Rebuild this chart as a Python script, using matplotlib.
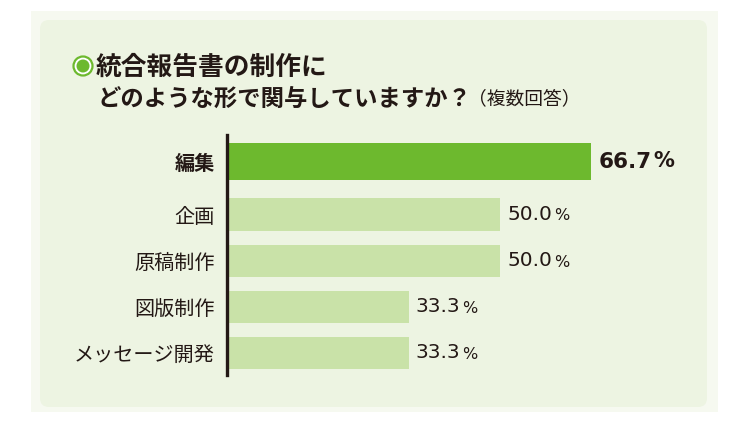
"""horizontal bar chart: involvement in integrated report production"""
import numpy as np
import matplotlib
matplotlib.use("Agg")
import matplotlib.pyplot as plt
from matplotlib.patches import FancyBboxPatch, Circle

plt.rcParams["font.family"] = ["Noto Sans CJK JP", "DejaVu Sans"]

# data
categories = ["編集", "企画", "原稿制作", "図版制作", "メッセージ開発"]
values = [66.7, 50.0, 50.0, 33.3, 33.3]
title_line1 = "統合報告書の制作に"
title_line2 = "どのような形で関与していますか？"
title_note = "（複数回答）"

W, H = 750, 422
fig = plt.figure(figsize=(W / 100, H / 100), dpi=100)
fig.patch.set_facecolor("white")

def fx(px):
    return px / W

def fy(py):
    return 1 - py / H

# background panels
outer = FancyBboxPatch((fx(31), fy(412)), fx(718) - fx(31), fy(11) - fy(412),
                       boxstyle="square,pad=0", transform=fig.transFigure,
                       facecolor="#F6F9F0", edgecolor="none", zorder=-2)
inner = FancyBboxPatch((fx(40), fy(407)), fx(707) - fx(40), fy(20) - fy(407),
                       boxstyle="round,pad=0,rounding_size=0.012",
                       transform=fig.transFigure, mutation_aspect=W / H,
                       facecolor="#EDF4E2", edgecolor="none", zorder=-1)
fig.patches.extend([outer, inner])

# title bullet (inches so it stays round)
bx, by = 83 / 100, (H - 66) / 100
bullet_outer = Circle((bx, by), 9.5 / 100, transform=fig.dpi_scale_trans,
                      facecolor="white", edgecolor="#6DB92E", linewidth=1.6, zorder=3)
bullet_inner = Circle((bx, by), 6.5 / 100, transform=fig.dpi_scale_trans,
                      facecolor="#6DB92E", edgecolor="none", zorder=4)
fig.patches.extend([bullet_outer, bullet_inner])

fig.text(fx(96), fy(67), title_line1, fontsize=18.5, fontweight="bold",
         color="#231815", va="center", ha="left")
fig.text(fx(98), fy(99), title_line2, fontsize=16.8, fontweight="bold",
         color="#231815", va="center", ha="left")
fig.text(fx(468), fy(99), title_note, fontsize=13.5, color="#231815",
         va="center", ha="left")

# bar chart
ax = fig.add_axes([fx(227), fy(375), fx(718) - fx(227), fy(135) - fy(375)])
ax.set_zorder(5)
ax.set_facecolor("none")
idx = np.arange(len(categories))
ypos = idx + np.where(idx > 0, 0.15, 0.0)
heights = np.where(idx == 0, 0.80, 0.70)
colors = ["#6DB92E" if i == 0 else "#C9E2A8" for i in idx]
ax.barh(ypos, values, height=heights, color=colors, left=0, zorder=2)

ax.set_xlim(0, (718 - 227) / 5.46)
ax.set_ylim(ypos[-1] + 0.478, -0.576)
for s in ["top", "right", "bottom"]:
    ax.spines[s].set_visible(False)
ax.spines["left"].set_linewidth(2.4)
ax.spines["left"].set_color("#231815")
ax.spines["left"].set_zorder(3)
ax.set_xticks([])
ax.set_yticks(ypos)
ax.set_yticklabels(categories, fontsize=14.5, color="#231815")
ax.tick_params(axis="y", length=0, pad=9)
ax.get_yticklabels()[0].set_fontweight("bold")

for i, v in enumerate(values):
    bold = i == 0
    t = ax.text(v + 1.3, ypos[i], f"{v:.1f}", fontsize=15.5 if bold else 14.5,
                fontweight="bold" if bold else "normal", color="#231815",
                va="center", ha="left", family=["DejaVu Sans"])
    ax.annotate("%", xy=(1, 0), xycoords=t, xytext=(1.5, 0.5), textcoords="offset points",
                fontsize=15 if bold else 11.5, fontweight="bold" if bold else "normal",
                color="#231815", va="bottom", ha="left", family=["DejaVu Sans"])

fig.savefig("out.png", dpi=100, facecolor=fig.get_facecolor())
